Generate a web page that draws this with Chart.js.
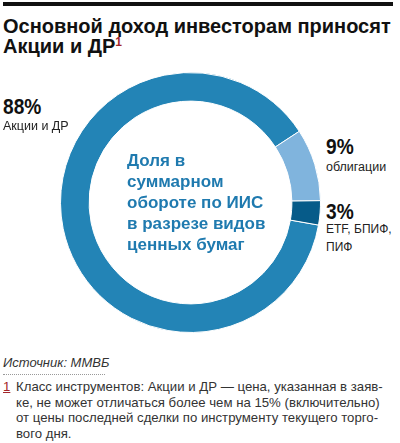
<!DOCTYPE html>
<html lang="ru">
<head>
<meta charset="utf-8">
<script src="https://cdn.jsdelivr.net/npm/chart.js@4.4.1/dist/chart.umd.min.js"></script>
<style>
  html, body { margin: 0; padding: 0; background: #fff; }
  body { width: 400px; height: 443px; position: relative; overflow: hidden;
         font-family: "Liberation Sans", Arial, sans-serif; color: #222; }
  .abs { position: absolute; white-space: nowrap; }
  #rule { left: 3px; top: 2px; width: 390px; height: 4px; background: #111; }
  #title { left: 3px; top: 16px; font-weight: bold; font-size: 20px; line-height: 20px; color: #111; }
  #title sup { color: #a3262a; font-size: 12px; font-weight: bold; vertical-align: 7px; line-height: 0; }
  #ring { position: absolute; left: 60px; top: 72px; }
  .pct { font-weight: bold; font-size: 22px; line-height: 22px; color: #111;
         transform: scaleX(0.87); transform-origin: 0 0; }
  .lbl { font-size: 12.5px; color: #222; }
  #center { left: 127px; top: 150px; font-weight: bold; font-size: 17px; line-height: 21px; color: #1f7aaf; }
  #src { left: 3px; top: 356px; font-style: italic; font-size: 13px; line-height: 13px; color: #333;
         padding-bottom: 5px; border-bottom: 1px dotted #999; width: 102px; }
  #note { left: 3px; top: 379px; font-size: 13.2px; line-height: 15.7px; color: #333; }
  #note .mark { color: #a3262a; text-decoration: underline; position: absolute; left: 0; top: 0; }
  #note .txt { margin-left: 13px; }
</style>
</head>
<body>
<div id="rule" class="abs"></div>
<div id="title" class="abs">Основной доход инвесторам приносят<br>Акции и ДР<sup>1</sup></div>

<canvas id="ring" width="261" height="261"></canvas>

<div id="p0" class="abs pct" style="left:3px; top:96px;"></div>
<div id="l0" class="abs lbl" style="left:3px; top:119px;"></div>
<div id="p1" class="abs pct" style="left:326px; top:136px;"></div>
<div id="l1" class="abs lbl" style="left:326px; top:160px;"></div>
<div id="p2" class="abs pct" style="left:326px; top:201px;"></div>
<div id="l2" class="abs lbl" style="left:326px; top:220px; white-space:normal; width:78px; line-height:18px; font-size:12px;"></div>

<div id="center" class="abs">Доля в<br>суммарном<br>обороте по ИИС<br>в разрезе видов<br>ценных бумаг</div>

<div id="src" class="abs">Источник: ММВБ</div>
<div id="note" class="abs">
  <span class="mark">1</span>
  <div class="txt">Класс инструментов: Акции и ДР — цена, указанная в заяв-<br>ке, не может отличаться более чем на 15% (включительно)<br>от цены последней сделки по инструменту текущего торго-<br>вого дня.</div>
</div>

<script>
// доли в суммарном обороте по ИИС, %
const categories = ['Акции и ДР', 'облигации', 'ETF, БПИФ, ПИФ'];
const values = [88, 9, 3];
const colors = ['#2384b6', '#80b4dd', '#065b89'];

categories.forEach(function(name, i) {
  document.getElementById('p' + i).textContent = values[i] + '%';
  document.getElementById('l' + i).textContent = name;
});

new Chart(document.getElementById('ring'), {
  type: 'doughnut',
  data: {
    labels: categories,
    datasets: [{
      data: values,
      backgroundColor: colors,
      borderColor: '#fff',
      borderWidth: 1
    }]
  },
  options: {
    responsive: false,
    animation: false,
    cutout: '78%',
    rotation: 100,
    layout: { padding: 0 },
    plugins: {
      legend: { display: false },
      tooltip: { enabled: false }
    }
  }
});
</script>
</body>
</html>
